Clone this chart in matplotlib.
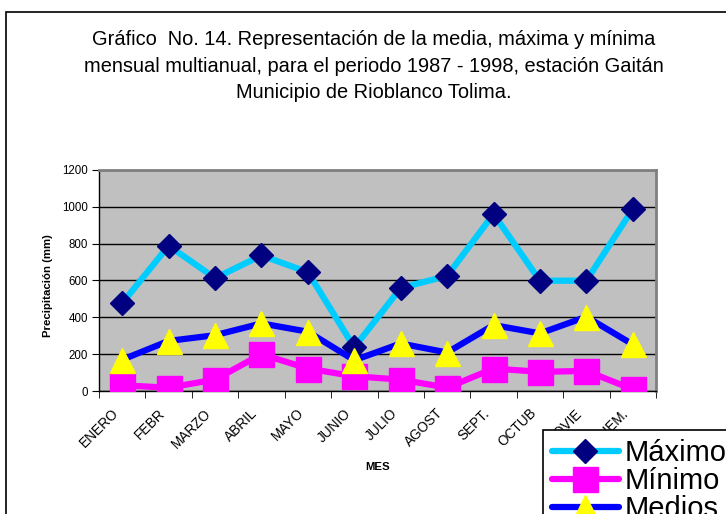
import matplotlib
matplotlib.use("Agg")
import numpy as np
import matplotlib.pyplot as plt
from matplotlib.patches import Rectangle
from matplotlib.transforms import ScaledTranslation

meses = ["ENERO", "FEBR", "MARZO", "ABRIL", "MAYO", "JUNIO", "JULIO",
         "AGOST", "SEPT.", "OCTUB", "NOVIE", "DICIEM."]
maximo = [477, 789, 613, 736, 645, 237, 559, 625, 961, 599, 599, 988]
minimo = [31, 18, 62, 200, 122, 80, 62, 18, 122, 104, 109, 9]
medios = [170, 272, 303, 367, 322, 167, 258, 209, 358, 313, 403, 253]
yticks = [0, 200, 400, 600, 800, 1000, 1200]

titulo = ("Gráfico  No. 14. Representación de la media, máxima y mínima\n"
          "mensual multianual, para el periodo 1987 - 1998, estación Gaitán\n"
          "Municipio de Rioblanco Tolima.")

plt.rcParams["font.family"] = ["Liberation Sans", "DejaVu Sans"]

W, H = 726, 514
fig = plt.figure(figsize=(W / 100, H / 100), dpi=100)

# outer chart frame (runs off the right and bottom edge)
fig.patches.append(Rectangle((6 / W, -0.2), 1.3, 1 - 12 / H + 0.2,
                             transform=fig.transFigure, fill=False,
                             edgecolor="black", linewidth=1.2, zorder=0))

fig.text(374 / W, 1 - 66 / H, titulo, ha="center", va="center",
         fontsize=14.4, linespacing=1.48)

ax = fig.add_axes([99 / W, 1 - 391 / H, 557 / W, 221 / H])
ax.set_facecolor("#C0C0C0")

x = np.arange(len(meses))
ax.plot(x, maximo, color="#00CCFF", lw=4.5, marker="D", ms=12.5,
        mfc="#000080", mec="#000080", label="Máximo", zorder=3)
ax.plot(x, minimo, color="#FF00FF", lw=4.5, marker="s", ms=18,
        mfc="#FF00FF", mec="#FF00FF", label="Mínimo", zorder=4)
ax.plot(x, medios, color="#0000FF", lw=4.5, marker="^", ms=18,
        mfc="#FFFF00", mec="#FFFF00", label="Medios", zorder=5)

ax.set_xlim(-0.5, len(meses) - 0.5)
ax.set_ylim(0, 1200)
ax.set_yticks(yticks)
ax.yaxis.grid(True, color="black", lw=1)
ax.set_axisbelow(True)
ax.tick_params(axis="y", labelsize=8.3, length=5, direction="out", pad=3)

# category labels: rotated, sitting a bit left of each category centre
ax.set_xticks(x)
ax.set_xticklabels([])
lab_tr = ax.get_xaxis_transform() + ScaledTranslation(-11 / 100, -15 / 100,
                                                      fig.dpi_scale_trans)
for xi, m in zip(x, meses):
    ax.text(xi, 0, m, transform=lab_tr, rotation=45, ha="right", va="top",
            rotation_mode="anchor", fontsize=9.8, clip_on=False)
ax.set_xticks(np.arange(len(meses) + 1) - 0.5, minor=True)
ax.tick_params(axis="x", which="major", length=0)
ax.tick_params(axis="x", which="minor", length=5, direction="out")

for s in ["left", "bottom"]:
    ax.spines[s].set_color("black")
    ax.spines[s].set_linewidth(1)
for s in ["top", "right"]:
    ax.spines[s].set_color("#808080")
    ax.spines[s].set_linewidth(2)

ax.set_ylabel("Precipitación (mm)", fontsize=8.2, fontweight="bold",
              va="center")
ax.yaxis.set_label_coords(-51 / 557, 105 / 221)
ax.set_xlabel("MES", fontsize=8.2, fontweight="bold", va="center")
ax.xaxis.set_label_coords(0.5, -76 / 221)

leg = fig.legend(loc="upper left", bbox_to_anchor=(543 / W, 1 - 430 / H),
                 fontsize=21, frameon=True, fancybox=False, edgecolor="black",
                 framealpha=1, handlelength=2.3, handletextpad=0.2,
                 borderpad=0.3, labelspacing=0.0, borderaxespad=0)
leg.get_frame().set_linewidth(1.2)
leg.set_zorder(10)
for h in leg.get_lines():
    h.set_solid_capstyle("round")

fig.savefig("out.png", dpi=100)
